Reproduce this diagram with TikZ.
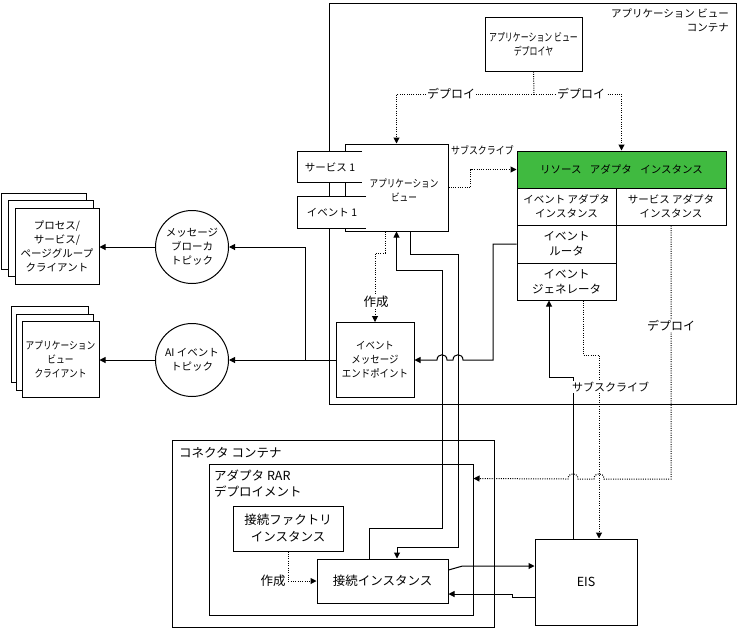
\documentclass[tikz,border=0pt]{standalone}
\usepackage{fontspec}
\setmainfont{Noto Sans CJK JP}
\usetikzlibrary{arrows.meta,calc}
\definecolor{ragreen}{RGB}{64,186,64}
\newcommand{\fz}[2]{\fontsize{#1}{#2}\selectfont}
\newcommand{\widesp}{\spaceskip=0.8em\relax}
\begin{document}
\begin{tikzpicture}[x=1pt,y=-1pt,
  box/.style={draw, line width=1pt, fill=white, inner sep=0pt, align=center, font=\fz{10.5}{14}},
  plain/.style={inner sep=0pt, align=center, font=\fz{10.5}{14}},
  ln/.style={line width=1pt},
  dt/.style={line width=1pt, dash pattern=on 1pt off 1.3pt},
  arr/.style={-{Triangle[length=6pt,width=6pt]}},
  lbl/.style={fill=white, inner sep=1pt, font=\fz{12}{14}},
  tab/.style={fill=white, inner sep=0pt, font=\fz{10.5}{14}}
]
\useasboundingbox (0,0) rectangle (738,630);
% containers
\node[box, minimum width=407, minimum height=401] (avc) at (532.5,203.5) {};
\node[plain, anchor=north east, align=right] (avct) at (729,9) {アプリケーション ビュー\\コンテナ};
\node[box, minimum width=322, minimum height=187] (cc) at (333,533.5) {};
\node[plain, font=\fz{12.5}{16}, anchor=west] (cct) at (179,453) {コネクタ コンテナ};
\node[box, minimum width=264, minimum height=151] (rar) at (341,539.5) {};
\node[plain, font=\fz{12.5}{16}, anchor=north west, align=left] (rart) at (214,470) {アダプタ RAR\\デプロイメント};
% application view side
\node[box, minimum width=97, minimum height=54, font=\fz{11}{13.5}\addfontfeatures{FakeStretch=0.72}] (dep) at (533.5,44) {アプリケーション ビュー\\デプロイヤ};
\node[box, minimum width=103, minimum height=87] (app) at (396.5,187.5) {};
\node[plain, font=\fz{10.5}{14}\addfontfeatures{FakeStretch=0.82}] (appt) at (404,190) {アプリケーション\\ビュー};
\node[tab, minimum width=64, minimum height=30] (tab1) at (330,167) {サービス 1};
\draw[ln] (tab1.north east) -- (tab1.north west) -- (tab1.south west) -- (tab1.south east);
\node[tab, minimum width=68, minimum height=31] (tab2) at (332,212.5) {イベント 1\hspace{4pt}};
\draw[ln] (tab2.north east) -- (tab2.north west) -- (tab2.south west) -- (tab2.south east);
\node[box, fill=ragreen, minimum width=209, minimum height=37, font=\fz{10.5}{14}\widesp] (ra) at (621.5,169.5) {リソース アダプタ インスタンス};
\node[box, minimum width=99, minimum height=37] (ea) at (566.5,206.5) {イベント アダプタ\\インスタンス};
\node[box, minimum width=110, minimum height=37] (sa) at (671,206.5) {サービス アダプタ\\インスタンス};
\node[box, minimum width=99, minimum height=38, font=\fz{11.5}{15}] (er) at (566.5,244) {イベント\\ルータ};
\node[box, minimum width=99, minimum height=37, font=\fz{11.5}{15}] (eg) at (566.5,281.5) {イベント\\ジェネレータ};
\node[box, minimum width=78, minimum height=75, font=\fz{10.5}{14}\addfontfeatures{FakeStretch=0.9}] (ep) at (375,360) {イベント\\メッセージ\\エンドポイント};
% topics
\node[box, circle, minimum size=73] (mb) at (192,247) {メッセージ\\ブローカ\\トピック};
\node[box, circle, minimum size=73] (ai) at (192,360) {AI イベント\\トピック};
% clients
\node[box, minimum width=85, minimum height=76] (psp3) at (44,231) {};
\node[box, minimum width=85, minimum height=76] (psp2) at (50.5,238.5) {};
\node[box, minimum width=84, minimum height=76] (psp1) at (57,246) {プロセス/\\サービス/\\ページグループ\\クライアント};
\node[box, minimum width=77, minimum height=76] (avcl3) at (49.5,344.5) {};
\node[box, minimum width=77, minimum height=76] (avcl2) at (55,352) {};
\node[box, minimum width=77, minimum height=76, font=\fz{10.5}{14}\addfontfeatures{FakeStretch=0.83}] (avcl1) at (60.5,359) {アプリケーション\\ビュー\\クライアント};
% connector container contents
\node[box, minimum width=110, minimum height=45, font=\fz{12.5}{17}] (cf) at (288,528.5) {接続ファクトリ\\インスタンス};
\node[box, minimum width=131, minimum height=44, font=\fz{12.5}{16}] (ci) at (382.5,581) {接続インスタンス};
\node[box, minimum width=102, minimum height=86, font=\fz{12.5}{16}] (eis) at (586,582) {EIS};
% deploy from deployer
\coordinate (dj) at (534,94);
\draw[dt] (dep.south) -- (dj);
\draw[dt,arr] (dj) -| (app.north);
\draw[dt,arr] (dj) -| (ra.north);
% subscribe app -> RA
\draw[dt,arr] (app.east) -- ++(22,0) |- (ra.west);
% event router -> endpoint (with jumps)
\draw[ln,arr] (er.west) -- (493,244) -- (493,360) -- (463,360)
  .. controls (463,353) and (453,353) .. (453,360) -- (447,360)
  .. controls (447,353) and (437,353) .. (437,360) -- (ep.east);
% create endpoint
\draw[dt,arr] ($(app.south)+(-11.5,0)$) -- (385,253) -- (375,253) -- (ep.north);
% app -> connection instance
\draw[ln,arr] ($(app.south)+(13.5,0)$) -- (410,254) -- (458,254) -- (458,547) -- (397,547) -- ($(ci.north)+(14.5,0)$);
% connection instance -> app
\draw[ln,arr] ($(ci.north)+(-13.5,0)$) -- (369,528) -- (442,528) -- (442,270) -- (396.5,270) -- (app.south);
% endpoint -> topics
\coordinate (jn) at (305,360);
\draw[ln,arr] (ep.west) -- (ai.east);
\draw[ln,arr] (jn) |- (mb.east);
% topics -> clients
\draw[ln,arr] (mb.west) -- (mb.west -| psp1.east);
\draw[ln,arr] (ai.west) -- (ai.west -| avcl1.east);
% deploy SA -> RAR (with jumps)
\draw[dt,arr] (sa.south) -- (671,479) -- (604,479)
  .. controls (604,472) and (594,472) .. (594,479) -- (578,479)
  .. controls (578,472) and (568,472) .. (568,479) -- ($(rar.north east)+(0,15)$);
% generator -> EIS
\draw[dt,arr] ($(eg.south)+(16.5,0)$) -- (583,355) -- (599,355) -- ($(eis.north)+(13,0)$);
% EIS subscribe -> generator
\draw[ln,arr] ($(eis.north)+(-13,0)$) -- (573,377) -- (549,377) -- ($(eg.south)+(-17.5,0)$);
% factory creates connection
\draw[dt,arr] (cf.south) |- (ci.west);
% connection <-> EIS
\draw[ln,arr] ($(ci.east)+(0,-11)$) -- ++(14,-4) -- ($(eis.west)+(0,-16)$);
\draw[ln,arr] ($(eis.west)+(0,15)$) -- ++(-22,0) -- ++(0,-3) -- ($(ci.east)+(0,13)$);
% labels
\node[lbl] (l1) at (451,94) {デプロイ};
\node[lbl] (l2) at (581,94) {デプロイ};
\node[lbl] (l3) at (671,326) {デプロイ};
\node[plain, anchor=west, font=\fz{10.5}{14}\addfontfeatures{FakeStretch=0.85}] (l4) at (451,150) {サブスクライブ};
\node[lbl, font=\fz{11}{14}, anchor=west] (l5) at (571,387) {サブスクライブ};
\node[lbl, font=\fz{12.5}{14}] (l6) at (376,302) {作成};
\node[lbl, font=\fz{12.5}{14}] (l7) at (273,581) {作成};
\end{tikzpicture}
\end{document}
